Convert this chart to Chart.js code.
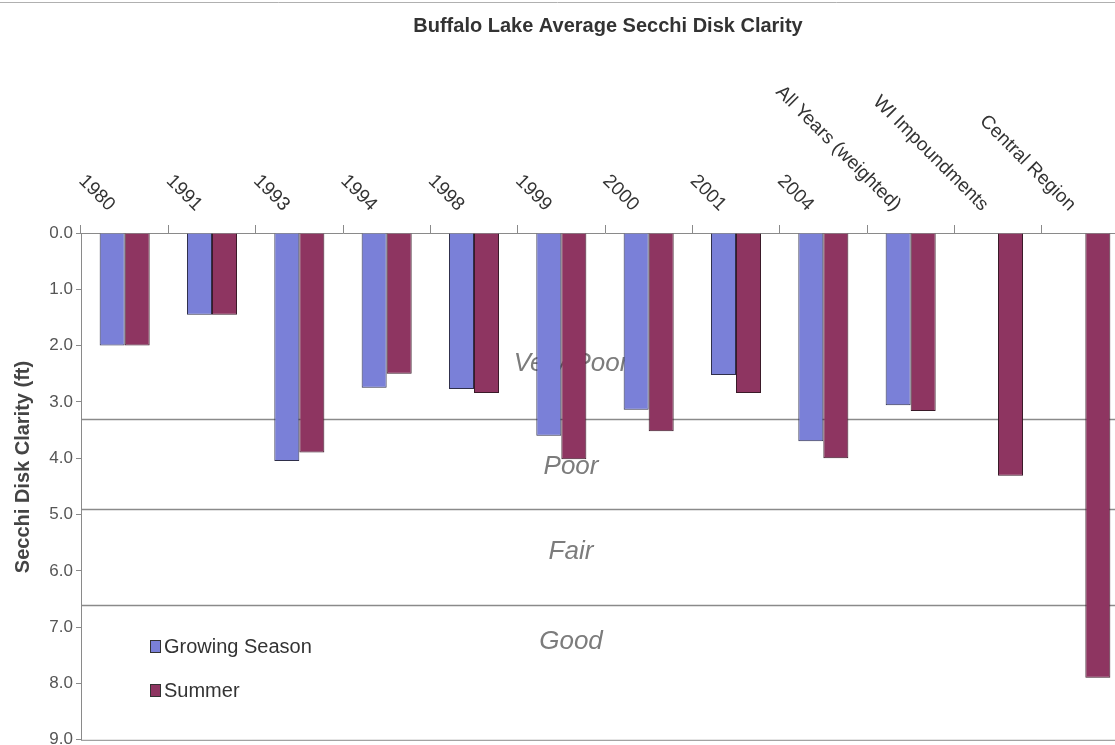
<!DOCTYPE html>
<html>
<head>
<meta charset="utf-8">
<title>Buffalo Lake Average Secchi Disk Clarity</title>
<script src="https://cdn.jsdelivr.net/npm/chart.js@4/dist/chart.umd.min.js"></script>
<style>
  html, body { margin: 0; padding: 0; background: #fff; overflow: hidden; }
  #wrap { position: relative; width: 1129px; height: 753px; }
</style>
</head>
<body>
<div id="wrap"><canvas id="chart" width="1129" height="753"></canvas></div>
<script>
// data
const categories = ['1980', '1991', '1993', '1994', '1998', '1999', '2000', '2001', '2004',
  'All Years (weighted)', 'WI Impoundments', 'Central Region'];
const growingSeason = [2.0, 1.45, 4.05, 2.75, 2.77, 3.6, 3.14, 2.52, 3.7, 3.06, null, null];
const summer = [2.0, 1.45, 3.9, 2.5, 2.84, 4.02, 3.52, 2.84, 4.0, 3.16, 4.31, 7.9];
const bandEdges = [3.3, 4.9, 6.6];
const bandNames = ['Very Poor', 'Poor', 'Fair', 'Good'];
const seriesNames = ['Growing Season', 'Summer'];

const blue = '#7a80d8';
const maroon = '#8e3561';
const FONT = "Arial, 'Liberation Sans', sans-serif";

const decor = {
  id: 'decor',
  beforeDatasetsDraw: (chart) => {
    const { ctx, chartArea: a, scales: { y } } = chart;
    ctx.save();
    // quality band dividers, behind the bars
    ctx.strokeStyle = '#8a8a8a';
    ctx.lineWidth = 1.5;
    bandEdges.forEach(v => {
      const py = Math.round(y.getPixelForValue(v)) + 0.5;
      ctx.beginPath();
      ctx.moveTo(a.left, py);
      ctx.lineTo(a.right, py);
      ctx.stroke();
    });
    // band names
    const spots = [2.32, 4.15, 5.66, 7.26];
    ctx.font = 'italic 26px ' + FONT;
    ctx.fillStyle = '#7c7c7c';
    ctx.textAlign = 'center';
    ctx.textBaseline = 'middle';
    bandNames.forEach((n, i) => ctx.fillText(n, 571, y.getPixelForValue(spots[i])));
    ctx.restore();
  },
  afterDraw: (chart) => {
    const { ctx, chartArea: a, scales: { x } } = chart;
    ctx.save();

    // faint page edge at the very top
    ctx.strokeStyle = '#b0b0b0';
    ctx.lineWidth = 1;
    ctx.beginPath(); ctx.moveTo(0, 2.5); ctx.lineTo(1115, 2.5); ctx.stroke();

    // bottom frame line
    ctx.strokeStyle = '#8a8a8a';
    ctx.beginPath(); ctx.moveTo(a.left, a.bottom + 0.5); ctx.lineTo(a.right, a.bottom + 0.5); ctx.stroke();

    // title
    ctx.fillStyle = '#333';
    ctx.font = 'bold 20px ' + FONT;
    ctx.textAlign = 'center';
    ctx.textBaseline = 'middle';
    ctx.fillText('Buffalo Lake Average Secchi Disk Clarity', 608, 26);

    // y axis title
    ctx.save();
    ctx.translate(23, 467);
    ctx.rotate(-Math.PI / 2);
    ctx.font = 'bold 20px ' + FONT;
    ctx.fillStyle = '#444';
    ctx.fillText('Secchi Disk Clarity (ft)', 0, 0);
    ctx.restore();

    // slanted category labels above the plot
    ctx.font = '19px ' + FONT;
    ctx.fillStyle = '#333';
    ctx.textAlign = 'right';
    ctx.textBaseline = 'middle';
    categories.forEach((c, i) => {
      ctx.save();
      ctx.translate(x.getPixelForValue(i) - 13, 208);
      ctx.rotate(Math.PI / 4);
      ctx.fillText(c, 0, 0);
      ctx.restore();
    });

    // legend inside the plot
    ctx.font = '20px ' + FONT;
    ctx.textAlign = 'left';
    [blue, maroon].forEach((col, i) => {
      const ly = 646 + i * 44;
      ctx.fillStyle = col;
      ctx.fillRect(150, ly - 6, 11, 13);
      ctx.strokeStyle = '#333';
      ctx.strokeRect(150.5, ly - 5.5, 10, 12);
      ctx.fillStyle = '#333';
      ctx.fillText(seriesNames[i], 164, ly + 1);
    });
    ctx.restore();
  }
};

const chart = new Chart(document.getElementById('chart'), {
  type: 'bar',
  data: {
    labels: categories,
    datasets: [
      { label: seriesNames[0], data: growingSeason, backgroundColor: blue, borderColor: '#2f2f4a', borderWidth: 1 },
      { label: seriesNames[1], data: summer, backgroundColor: maroon, borderColor: '#3a1a28', borderWidth: 1 }
    ]
  },
  options: {
    responsive: false,
    animation: false,
    devicePixelRatio: 1,
    datasets: { bar: { categoryPercentage: 0.573, barPercentage: 1.0 } },
    layout: { padding: 0 },
    plugins: { legend: { display: false }, title: { display: false }, tooltip: { enabled: false } },
    scales: {
      x: {
        position: 'top',
        offset: true,
        ticks: { display: false },
        grid: { offset: true, drawOnChartArea: false, tickLength: 8, color: '#8a8a8a' },
        border: { color: '#8a8a8a' },
        afterFit: s => { s.height = 233; }
      },
      y: {
        reverse: true,
        min: 0,
        max: 9,
        ticks: {
          stepSize: 1,
          padding: 3,
          color: '#555',
          font: { size: 17, family: FONT },
          callback: v => v.toFixed(1)
        },
        grid: { drawOnChartArea: false, tickLength: 5, color: '#8a8a8a' },
        border: { color: '#8a8a8a' },
        afterFit: s => { s.width = 81; }
      }
    }
  },
  plugins: [decor]
});
</script>
</body>
</html>
